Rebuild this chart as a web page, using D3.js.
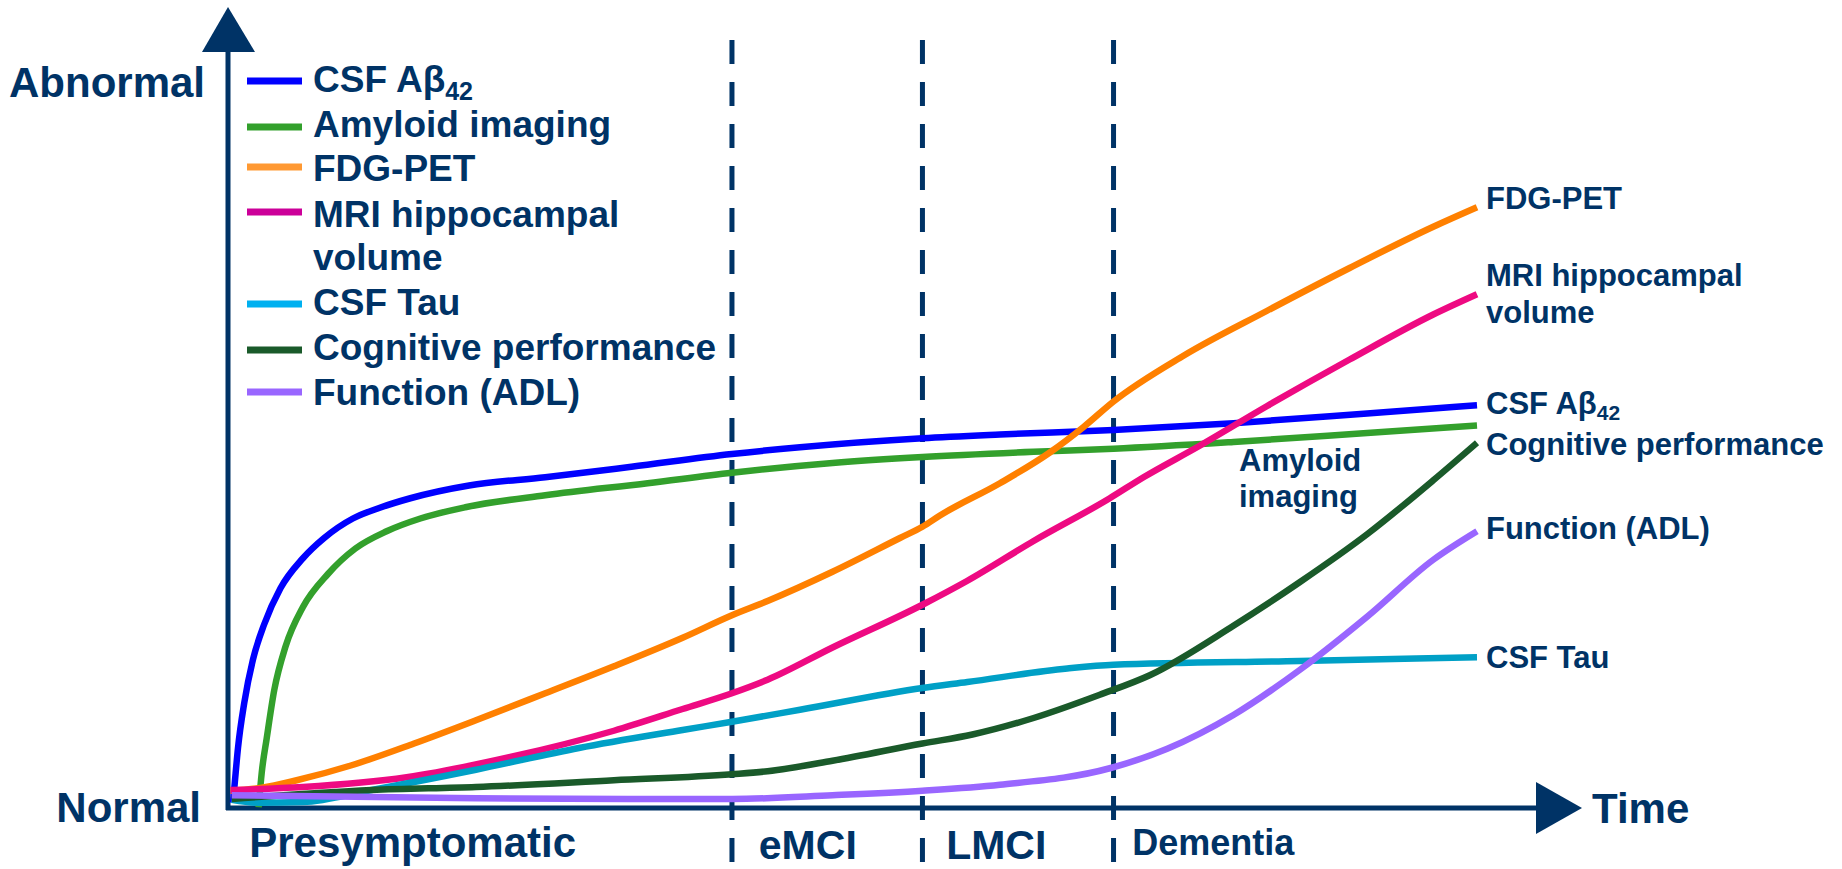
<!DOCTYPE html>
<html>
<head>
<meta charset="utf-8">
<script src="https://cdn.jsdelivr.net/npm/d3@7"></script>
<style>
  html, body { margin: 0; padding: 0; background: #ffffff; }
  svg { display: block; }
  text { font-family: "Liberation Sans", Arial, Helvetica, sans-serif; font-weight: bold; fill: #003366; }
</style>
</head>
<body>
<svg id="chart" width="1842" height="869"></svg>
<script>
// Biomarker trajectories over the course of Alzheimer's disease.
// Time runs 0..100 along the x axis, abnormality 0 (normal) .. 100 along y.

const stageBounds = [40.35, 55.6, 70.9];
const stageLabels = ["Presymptomatic", "eMCI", "LMCI", "Dementia"];

const csfAbeta42 = [[0.4,0.7],[0.55,3.5],[0.8,8.0],[1.3,14.0],[2.0,19.8],[2.9,24.5],[4.2,29.3],[6.0,33.3],[7.7,36.0],[10.0,38.6],[12.1,40.0],[14.6,41.3],[19.3,43.0],[25.4,44.1],[32.3,45.5],[40.35,47.2],[45.8,48.1],[55.6,49.3],[61.8,49.8],[70.9,50.4],[80.5,51.3],[91.2,52.6],[100,53.7]];
const amyloidImaging = [[2.45,0.1],[2.7,4.7],[3.1,9.3],[3.7,15.7],[4.6,21.5],[6.0,26.8],[8.0,31.2],[10.2,34.6],[12.7,36.9],[15.4,38.6],[19.0,40.1],[25.4,41.7],[33.6,43.3],[40.35,44.7],[48.4,46.0],[55.6,46.8],[64.5,47.5],[70.9,47.9],[80.5,48.8],[91.2,50.0],[100,51.0]];
const fdgPet = [[0.2,2.3],[2.7,2.7],[5.5,3.7],[9.9,5.7],[14.9,8.6],[19.85,11.7],[25.4,15.3],[30.9,18.9],[36.4,22.7],[40.35,25.7],[43.2,27.6],[48.4,31.5],[53.8,36.0],[55.6,37.5],[57.0,39.0],[61.8,43.3],[65.8,47.4],[68.5,50.8],[70.9,54.2],[76.5,60.3],[83.2,66.3],[89.8,72.0],[96.5,77.5],[100,80.1]];
const mriHippocampal = [[0.2,2.4],[6.0,2.8],[14.3,4.1],[22.6,6.8],[30.9,10.3],[36.4,13.2],[40.35,15.3],[43.2,17.1],[48.4,21.4],[55.6,27.1],[59.2,30.3],[64.5,35.6],[70.6,41.3],[73.3,44.1],[77.8,48.3],[83.2,53.6],[89.8,59.8],[96.5,65.8],[100,68.5]];
const csfTau = [[0.3,1.1],[2.45,0.7],[6.0,0.8],[11.5,2.4],[19.85,5.1],[28.1,8.0],[36.4,10.4],[40.35,11.5],[45.8,13.1],[55.6,16.0],[59.2,16.8],[67.2,18.6],[70.9,19.1],[85.8,19.6],[100,20.1]];
const cognitive = [[0.3,1.2],[11.5,2.4],[19.85,2.8],[30.9,3.7],[40.35,4.5],[43.2,4.9],[48.4,6.3],[55.6,8.6],[59.6,9.8],[64.5,12.0],[69.8,15.1],[73.8,17.7],[80.5,24.3],[85.8,30.1],[91.2,36.5],[96.5,43.7],[100,48.7]];
const functionAdl = [[0.3,1.7],[19.85,1.3],[40.35,1.2],[48.4,1.7],[55.6,2.3],[61.8,3.1],[70.6,5.3],[75.2,7.9],[80.5,12.4],[85.8,18.4],[91.2,25.5],[96.5,33.1],[100,36.9]];

const legendNames = ["CSF Aβ", "Amyloid imaging", "FDG-PET", "MRI hippocampal", "CSF Tau", "Cognitive performance", "Function (ADL)"];

// ---- layout ----
const svg = d3.select("#chart");
const navy = "#003366";
const x = d3.scaleLinear().domain([0, 100]).range([228, 1477]);
const y = d3.scaleLinear().domain([0, 100]).range([808, 58]);

// stage separators
svg.append("g").selectAll("line").data(stageBounds).join("line")
  .attr("x1", d => x(d)).attr("x2", d => x(d))
  .attr("y1", 40).attr("y2", 869)
  .attr("stroke", navy).attr("stroke-width", 5)
  .attr("stroke-dasharray", "24 18");

// axes with arrowheads
svg.append("line").attr("x1", 228).attr("x2", 228).attr("y1", 48).attr("y2", 810)
  .attr("stroke", navy).attr("stroke-width", 5);
svg.append("line").attr("x1", 226).attr("x2", 1540).attr("y1", 808).attr("y2", 808)
  .attr("stroke", navy).attr("stroke-width", 5);
svg.append("path").attr("d", "M228,7 L255,52 L202,52 Z").attr("fill", navy);
svg.append("path").attr("d", "M1582,808 L1536,782 L1536,834 Z").attr("fill", navy);

svg.append("text").attr("x", 205).attr("y", 97).attr("text-anchor", "end")
  .style("font-size", "42px").text("Abnormal");
svg.append("text").attr("x", 201).attr("y", 822).attr("text-anchor", "end")
  .style("font-size", "42px").text("Normal");
svg.append("text").attr("x", 1592).attr("y", 823)
  .style("font-size", "42px").text("Time");

// stage labels under the time axis
const stageLabelX = [x(1.7), x(42.5), x(57.5), x(72.4)];
const stageLabelY = [857, 859, 859, 855];
const stageLabelSize = [42, 41, 41, 36];
svg.append("g").selectAll("text").data(stageLabels).join("text")
  .attr("x", (d, i) => stageLabelX[i]).attr("y", (d, i) => stageLabelY[i])
  .style("font-size", (d, i) => stageLabelSize[i] + "px")
  .text(d => d);

// curves
const series = [
  { data: csfAbeta42, line: "#0000FF", key: "#0000FF" },
  { data: amyloidImaging, line: "#33A02C", key: "#33A02C" },
  { data: fdgPet, line: "#FF8000", key: "#FF9933" },
  { data: mriHippocampal, line: "#EE0A82", key: "#CC0099" },
  { data: csfTau, line: "#00A0C6", key: "#00B0F0" },
  { data: cognitive, line: "#1A5A2A", key: "#1A5A2A" },
  { data: functionAdl, line: "#9966FF", key: "#9966FF" }
];
const lineGen = d3.line().x(d => x(d[0])).y(d => y(d[1])).curve(d3.curveMonotoneX);
svg.append("g").selectAll("path").data(series).join("path")
  .attr("d", d => lineGen(d.data))
  .attr("fill", "none").attr("stroke", d => d.line)
  .attr("stroke-width", 6.5).attr("stroke-linejoin", "round");

// legend
const legendRowY = [81, 127, 167, 212, 304, 350, 392];
const legendTextY = [92, 137, 181, 227, 315, 360, 405];
const lg = svg.append("g");
series.forEach((s, i) => {
  lg.append("line").attr("x1", 247).attr("x2", 302)
    .attr("y1", legendRowY[i]).attr("y2", legendRowY[i])
    .attr("stroke", s.key).attr("stroke-width", 7);
  const t = lg.append("text").attr("x", 313).attr("y", legendTextY[i])
    .style("font-size", "37px").text(legendNames[i]);
  if (i === 0) t.append("tspan").attr("dy", 8).style("font-size", "25px").text("42");
});
lg.append("text").attr("x", 313).attr("y", 270).style("font-size", "37px").text("volume");

// labels at the end of each curve
const endLabels = [
  { lines: ["CSF Aβ"], sub: true, y: [414] },
  { lines: ["Cognitive performance"], y: [455] },
  { lines: ["FDG-PET"], y: [209] },
  { lines: ["MRI hippocampal", "volume"], y: [286, 323] },
  { lines: ["CSF Tau"], y: [668] },
  { lines: ["Function (ADL)"], y: [539] }
];
const eg = svg.append("g");
endLabels.forEach(l => {
  l.lines.forEach((s, j) => {
    const t = eg.append("text").attr("x", x(100) + 9).attr("y", l.y[j])
      .style("font-size", "31px").text(s);
    if (l.sub) t.append("tspan").attr("dy", 6).style("font-size", "21px").text("42");
  });
});
eg.append("text").attr("x", 1239).attr("y", 471).style("font-size", "31px").text("Amyloid");
eg.append("text").attr("x", 1239).attr("y", 507).style("font-size", "31px").text("imaging");
</script>
</body>
</html>
